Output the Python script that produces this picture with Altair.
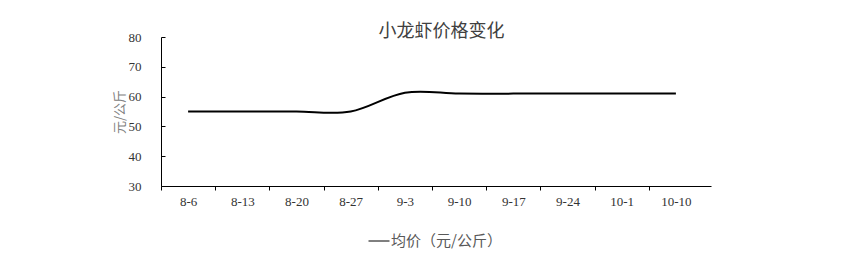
import altair as alt
import pandas as pd

dates = ["8-6", "8-13", "8-20", "8-27", "9-3", "9-10", "9-17", "9-24", "10-1", "10-10"]
prices = [55.0, 55.0, 55.0, 55.0, 61.3, 61.0, 61.0, 61.0, 61.0, 61.0]
series_name = "均价（元/公斤）"
y_ticks = [30, 40, 50, 60, 70, 80]
y_domain = [30, 80]
chart_title = "小龙虾价格变化"
y_title = "元/公斤"

df = pd.DataFrame({"date": dates, "price": prices, "series": [series_name] * len(dates)})

W, H = 550, 149
n = len(dates)
outer = 8 / (2 * 54.2)
step = W / (n + 2 * outer)

cjk = "Noto Sans CJK SC"
serif = "Liberation Serif"

x_enc = alt.X(
    "date:N", sort=dates, title=None,
    scale=alt.Scale(type="band", paddingInner=0, paddingOuter=outer, align=0),
    axis=alt.Axis(labelAngle=0, tickOffset=-step / 2, labelOffset=step / 2,
                  tickSize=4, labelPadding=5, labelFont=serif, labelFontSize=13,
                  labelColor="#333333", domainColor="#000000", tickColor="#000000",
                  grid=False),
)

y_scale = alt.Scale(domain=y_domain, nice=False, zero=False)

line = alt.Chart(df).mark_line(interpolate="cardinal", strokeWidth=2).encode(
    x=x_enc,
    y=alt.Y("price:Q", scale=y_scale,
            axis=alt.Axis(values=y_ticks, title=y_title, titleFont=cjk, titleColor="#808080",
                          titleFontSize=13, titleFontWeight="normal", titleX=-42, titleY=H / 2,
                          titleAngle=-90, titleBaseline="middle", titleAlign="center",
                          ticks=False, tickSize=0, labelPadding=20, labelFont=serif,
                          labelFontSize=13, labelColor="#333333", domainColor="#000000",
                          grid=False)),
    color=alt.Color("series:N", scale=alt.Scale(range=["#000000"]),
                    legend=alt.Legend(orient="none", legendX=207, legendY=193, title=None,
                                      symbolType="stroke", symbolSize=441,
                                      symbolStrokeWidth=1, symbolStrokeColor="#595959",
                                      labelFont=cjk, labelFontSize=15, labelColor="#595959",
                                      labelOffset=1, padding=0)),
)

ticks_layer = alt.Chart(df).mark_line(opacity=0).encode(
    x=alt.X("date:N", sort=dates),
    y=alt.Y("price:Q", scale=y_scale,
            axis=alt.Axis(orient="right", offset=-W, values=y_ticks, labels=False,
                          domain=False, ticks=True, tickSize=4, tickColor="#000000",
                          title=None, grid=False)),
)

chart = alt.layer(line, ticks_layer).resolve_axis(y="independent").resolve_scale(y="shared").properties(
    width=W, height=H,
    padding={"left": 161, "top": 37, "right": 150, "bottom": 72},
    autosize=alt.AutoSizeParams(type="none"),
    title=alt.Title(chart_title, font=cjk, fontSize=18, fontWeight="normal", color="#404040",
                    anchor="middle", baseline="middle", offset=8, dx=5.5, dy=27),
).configure_view(stroke="transparent")

chart.save("out.html", embed_options={"renderer": "svg", "actions": False})
